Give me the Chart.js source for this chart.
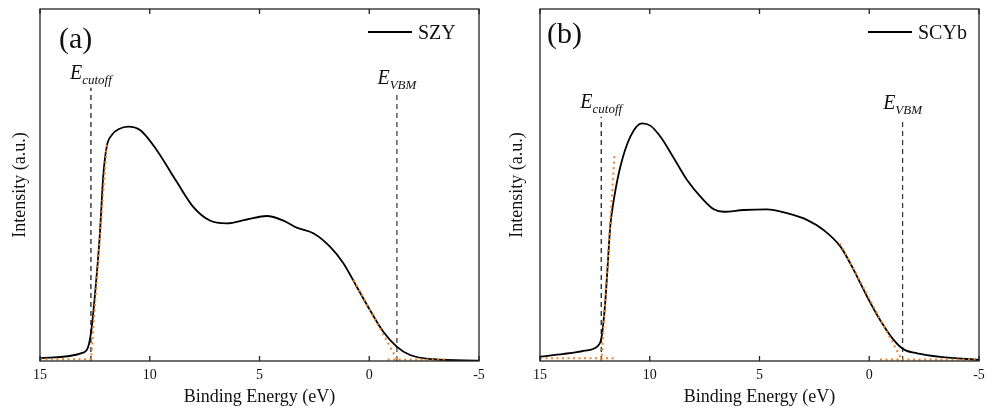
<!DOCTYPE html>
<html>
<head>
<meta charset="utf-8">
<script src="https://cdn.jsdelivr.net/npm/chart.js@4.4.0/dist/chart.umd.min.js"></script>
<style>
  html, body { margin: 0; padding: 0; background: #fff; }
  .wrap { display: flex; width: 994px; height: 413px; }
  .panel { width: 497px; height: 413px; position: relative; }
</style>
</head>
<body>
<div class="wrap">
  <div class="panel"><canvas id="chartA" width="497" height="413"></canvas></div>
  <div class="panel"><canvas id="chartB" width="497" height="413"></canvas></div>
</div>
<script>
// Binding energy (eV) and intensity (a.u.)
const energyA = [15, 13.03, 12.8, 12.65, 12.49, 12.27, 12.12, 11.96, 11.73, 11.4, 10.98, 10.44, 9.68, 8.77, 8.02, 7.26, 6.49, 5.58, 4.67, 3.91, 3.31, 2.55, 1.79, 1.18, 0.57, -0.03, -0.64, -1.25, -1.86, -2.92, -5];
const intensityA = [0.8, 2.4, 4.1, 9.3, 19.2, 36.3, 52.4, 60.9, 64.2, 65.9, 66.6, 65.6, 59.9, 50.9, 43.8, 39.9, 39.1, 40.2, 41.2, 39.9, 37.9, 36.3, 32.5, 27.8, 21.1, 14.5, 8.3, 4.1, 1.7, 0.5, 0.1];

const energyB = [15, 13.92, 13.01, 12.4, 12.22, 12.13, 12.02, 11.92, 11.8, 11.64, 11.34, 10.89, 10.35, 9.96, 9.51, 8.9, 8.3, 7.69, 7.08, 6.63, 5.72, 4.66, 3.75, 2.84, 2.08, 1.31, 0.71, 0.1, -0.5, -1.11, -1.57, -2.18, -3.24, -5];
const intensityB = [1.2, 2.0, 2.9, 4.1, 6.0, 9.8, 17.3, 26.8, 38.2, 45.7, 55.2, 63.7, 67.5, 66.8, 63.7, 57.6, 51.4, 46.7, 43.1, 42.4, 42.9, 43.1, 42.0, 40.1, 37.2, 32.5, 25.9, 18.3, 11.6, 6.0, 3.3, 2.2, 1.2, 0.3];

// linear fits (orange dotted): energy start/end, intensity start/end
const cutoffFitA = { x: [11.96, 12.68], y: [61.4, 0] };
const cutoffBaseA = { x: [15, 12.6], y: [0.5, 0.5] };
const vbmFitA = { x: [0.71, -1.3], y: [23, 0] };
const vbmBaseA = { x: [-0.84, -3.53], y: [0.4, 0.4] };

const cutoffFitB = { x: [11.61, 12.2], y: [58.2, 0] };
const cutoffBaseB = { x: [15, 11.5], y: [0.8, 0.8] };
const vbmFitB = { x: [1.33, -1.51], y: [33.4, 0] };
const vbmBaseB = { x: [-0.49, -4.9], y: [0.4, 0.4] };

// marker lines: energy, top intensity
const cutoffA = [12.68, 77.6];
const vbmA = [-1.26, 76.1];
const cutoffB = [12.21, 69.4];
const vbmB = [-1.52, 69.0];

const xTicks = [15, 10, 5, 0, -5];

const serif = '"Liberation Serif", "DejaVu Serif", serif';
const orange = '#f0842a';

function pts(xs, ys) {
    return xs.map((x, i) => ({ x: x, y: ys[i] }));
}

function fitSet(f) {
    return {
        data: pts(f.x, f.y),
        borderColor: orange,
        borderWidth: 2,
        borderDash: [2, 3.5],
        pointRadius: 0,
        tension: 0,
        order: 0
    };
}

function markerSet(m, color) {
    return {
        data: [{ x: m[0], y: 0 }, { x: m[0], y: m[1] }],
        borderColor: color,
        borderWidth: 1.2,
        borderDash: [5, 4],
        pointRadius: 0,
        order: 2
    };
}

// frame, inward ticks, annotations
const decor = {
    id: 'decor',
    afterDraw(chart, args, opts) {
        const { ctx, chartArea: a, scales } = chart;
        const xs = scales.x;
        ctx.save();
        ctx.strokeStyle = '#222';
        ctx.lineWidth = 1.3;
        ctx.strokeRect(a.left, a.top, a.right - a.left, a.bottom - a.top);
        ctx.beginPath();
        xTicks.forEach(v => {
            const px = xs.getPixelForValue(v);
            ctx.moveTo(px, a.bottom);
            ctx.lineTo(px, a.bottom - 5);
            ctx.moveTo(px, a.top);
            ctx.lineTo(px, a.top + 5);
        });
        ctx.stroke();

        // panel letter
        ctx.fillStyle = '#111';
        ctx.font = '30px ' + serif;
        ctx.textBaseline = 'alphabetic';
        ctx.textAlign = 'left';
        ctx.fillText(opts.letter, opts.letterPos[0], opts.letterPos[1]);

        // legend
        ctx.beginPath();
        ctx.lineWidth = 1.8;
        ctx.strokeStyle = '#000';
        ctx.moveTo(a.right - 111, 32);
        ctx.lineTo(a.right - 67, 32);
        ctx.stroke();
        ctx.font = '20px ' + serif;
        ctx.fillText(opts.name, a.right - 61, 39);

        // E labels
        opts.marks.forEach(m => {
            const px = xs.getPixelForValue(m.at[0]);
            const py = scales.y.getPixelForValue(m.at[1]) - 9;
            ctx.font = 'italic 20px ' + serif;
            const wE = ctx.measureText('E').width;
            ctx.font = 'italic 13px ' + serif;
            const wS = ctx.measureText(m.sub).width;
            const x0 = px - (wE + wS) / 2;
            ctx.font = 'italic 20px ' + serif;
            ctx.fillText('E', x0, py);
            ctx.font = 'italic 13px ' + serif;
            ctx.fillText(m.sub, x0 + wE, py + 5);
        });
        ctx.restore();
    }
};

function makeChart(id, energy, intensity, fits, marks, opts) {
    return new Chart(document.getElementById(id), {
        type: 'line',
        data: {
            datasets: [
                {
                    data: pts(energy, intensity),
                    borderColor: '#000',
                    borderWidth: 1.8,
                    pointRadius: 0,
                    cubicInterpolationMode: 'monotone',
                    order: 1
                },
                ...fits.map(fitSet),
                markerSet(marks[0], '#111'),
                markerSet(marks[1], '#333')
            ]
        },
        options: {
            responsive: false,
            animation: false,
            layout: { padding: { top: 9, right: opts.padRight, left: 0, bottom: 0 } },
            plugins: {
                legend: { display: false },
                tooltip: { enabled: false },
                decor: opts.decor
            },
            scales: {
                x: {
                    type: 'linear',
                    reverse: true,
                    min: -5,
                    max: 15,
                    afterBuildTicks: s => { s.ticks = xTicks.map(v => ({ value: v })); },
                    afterFit: s => { s.height = 52; },
                    grid: { display: false, drawTicks: false },
                    border: { display: false },
                    ticks: { padding: 6, color: '#111', font: { family: serif, size: 14 } },
                    title: {
                        display: true,
                        text: 'Binding Energy (eV)',
                        color: '#111',
                        font: { family: serif, size: 18 },
                        padding: { top: 0, bottom: 5 }
                    }
                },
                y: {
                    min: 0,
                    max: 100,
                    afterFit: s => { s.width = opts.yWidth; },
                    grid: { display: false, drawTicks: false },
                    border: { display: false },
                    ticks: { display: false },
                    title: {
                        display: true,
                        text: 'Intensity (a.u.)',
                        color: '#111',
                        font: { family: serif, size: 18 },
                        padding: { top: 9, bottom: 0 }
                    }
                }
            }
        },
        plugins: [decor]
    });
}

makeChart('chartA', energyA, intensityA,
    [cutoffFitA, cutoffBaseA, vbmFitA, vbmBaseA],
    [cutoffA, vbmA],
    {
        padRight: 18,
        yWidth: 40,
        decor: {
            letter: '(a)', letterPos: [59, 48], name: 'SZY',
            marks: [{ at: cutoffA, sub: 'cutoff' }, { at: vbmA, sub: 'VBM' }]
        }
    });

makeChart('chartB', energyB, intensityB,
    [cutoffFitB, cutoffBaseB, vbmFitB, vbmBaseB],
    [cutoffB, vbmB],
    {
        padRight: 15,
        yWidth: 43,
        decor: {
            letter: '(b)', letterPos: [50, 43], name: 'SCYb',
            marks: [{ at: cutoffB, sub: 'cutoff' }, { at: vbmB, sub: 'VBM' }]
        }
    });
</script>
</body>
</html>
